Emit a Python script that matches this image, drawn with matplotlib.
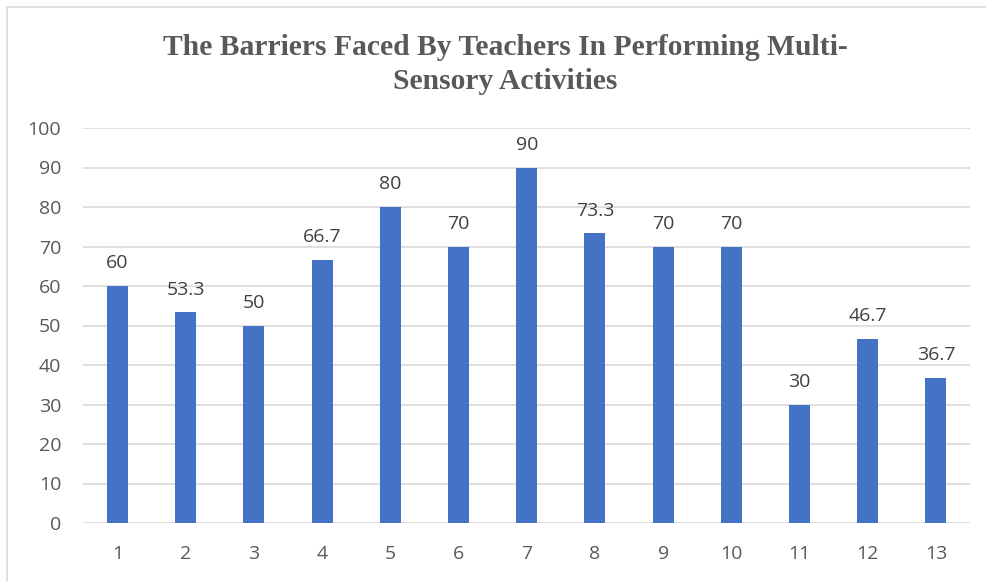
import matplotlib
matplotlib.use('Agg')
import matplotlib.pyplot as plt
from matplotlib.patches import Rectangle

categories = [str(i) for i in range(1, 14)]
values = [60, 53.3, 50, 66.7, 80, 70, 90, 73.3, 70, 70, 30, 46.7, 36.7]
value_labels = ['60', '53.3', '50', '66.7', '80', '70', '90', '73.3', '70', '70', '30', '46.7', '36.7']
yticks = list(range(0, 101, 10))
title_lines = ['The Barriers Faced By Teachers In Performing Multi-', 'Sensory Activities']

W, H = 986, 581
fig = plt.figure(figsize=(W / 100, H / 100), dpi=100)
fig.patch.set_facecolor('white')

# outer chart border (light gray, runs off right/bottom edges)
fig.patches.append(Rectangle((7 / W, -0.1), 1.2, 1.1 - 7 / H, transform=fig.transFigure,
                             fill=False, edgecolor='#d9d9d9', linewidth=1.2))

ax = fig.add_axes([83.4 / W, 1 - 523 / H, (970 - 83.4) / W, (523 - 128) / H])
x = list(range(len(categories)))
ax.bar(x, values, width=0.31, color='#4472C4', zorder=3)
ax.set_xlim(-0.5, len(categories) - 0.5)
ax.set_ylim(0, 100)
ax.set_yticks(yticks)
ax.set_xticks(x)
ax.set_xticklabels(categories)
ax.grid(axis='y', color='#d9d9d9', linewidth=1.2, zorder=0)
for s in ax.spines.values():
    s.set_visible(False)
ax.tick_params(length=0, labelsize=14, labelcolor='#595959')
ax.tick_params(axis='y', pad=16)
ax.tick_params(axis='x', pad=16)
for lab in ax.get_xticklabels() + ax.get_yticklabels():
    lab.set_fontfamily('Open Sans')

for xi, v, t in zip(x, values, value_labels):
    ax.annotate(t, (xi, v), xytext=(0, 10), textcoords='offset points',
                ha='center', va='bottom', fontsize=14, color='#404040',
                family='Open Sans')

cx = 0.5 * (163 + 848) / W
for line, base in zip(title_lines, [55, 89]):
    fig.text(cx, 1 - base / H, line, ha='center', va='baseline', fontsize=21.3,
             fontweight='bold', family='Liberation Serif', color='#595959')

fig.savefig('out.png', dpi=100)
